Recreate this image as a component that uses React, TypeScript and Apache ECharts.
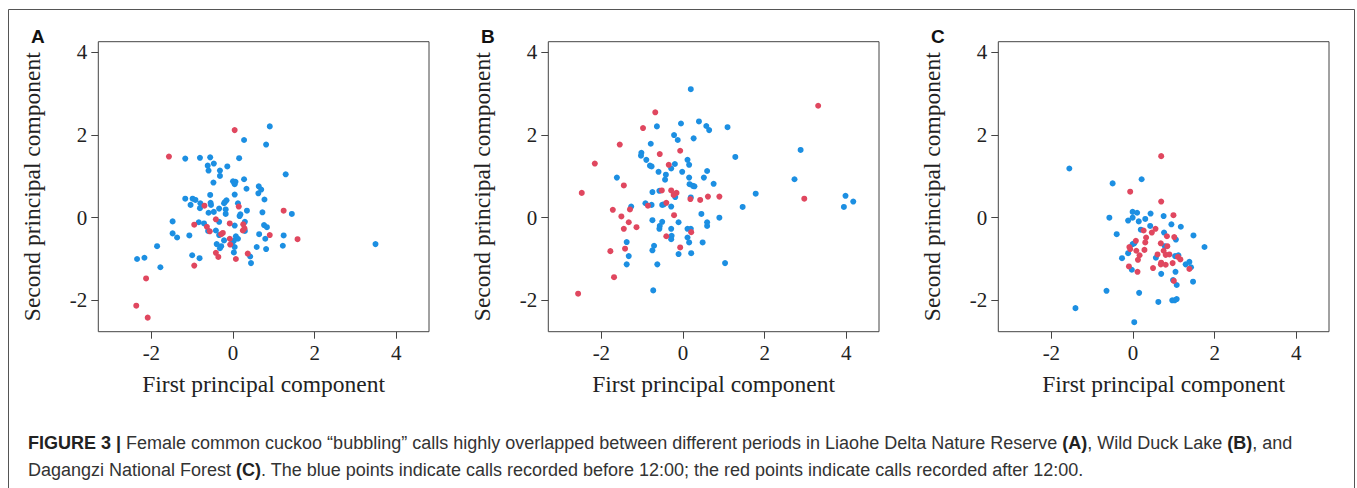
import React, { useEffect, useRef } from "react";
import * as echarts from "echarts";

// ---- Data ----
const panelLetters = ["A", "B", "C"];
const xTicks = [-2, 0, 2, 4];
const yTicks = [-2, 0, 2, 4];
const xTitle = "First principal component";
const yTitle = "Second principal component";

const aBefore: [number, number][] = [
  [0.90, 2.21], [0.27, 1.88], [0.81, 1.77], [-1.17, 1.43], [-0.81, 1.45], [-0.56, 1.46], [0.15, 1.44],
  [-0.62, 1.26], [-0.47, 1.31], [-0.14, 1.24], [-0.60, 1.14], [-0.32, 1.14], [-0.32, 1.01], [1.29, 1.05],
  [-0.48, 0.85], [0.00, 0.88], [0.06, 0.87], [0.04, 0.81], [0.27, 0.93], [0.33, 0.70], [0.63, 0.76],
  [0.69, 0.68], [0.62, 0.59], [0.77, 0.44], [0.04, 0.56], [-0.56, 0.55], [-1.17, 0.46], [-0.99, 0.46],
  [-0.92, 0.43], [-1.04, 0.31], [-0.80, 0.35], [-0.81, 0.23], [-0.55, 0.36], [-0.54, 0.31], [-0.20, 0.38],
  [-0.16, 0.42], [-0.22, 0.35], [0.12, 0.35], [-0.34, 0.22], [-0.18, 0.20], [-0.47, 0.14], [-0.60, 0.12],
  [-0.18, 0.09], [0.34, 0.17], [0.18, 0.08], [0.16, 0.04], [0.72, 0.13], [1.44, 0.09], [-1.48, -0.09],
  [-0.84, -0.11], [-0.71, -0.14], [-0.34, -0.10], [0.04, -0.19], [0.29, -0.10], [0.76, -0.18], [0.83, -0.23],
  [-0.61, -0.32], [-0.42, -0.31], [0.29, -0.32], [-1.48, -0.38], [-1.37, -0.48], [-1.07, -0.43], [-0.34, -0.42],
  [0.07, -0.45], [0.12, -0.51], [0.64, -0.40], [0.79, -0.51], [1.24, -0.43], [-0.22, -0.55], [0.02, -0.56],
  [-0.40, -0.64], [-0.29, -0.69], [-0.32, -0.74], [-0.03, -0.62], [0.04, -0.71], [-1.86, -0.69], [0.58, -0.71],
  [0.81, -0.76], [1.22, -0.68], [3.49, -0.64], [0.02, -0.84], [-1.00, -0.91], [-0.82, -0.98], [0.42, -0.94],
  [0.44, -1.10], [-2.35, -1.00], [-2.17, -0.97], [-1.78, -1.20],
];
const aAfter: [number, number][] = [
  [0.04, 2.12], [-1.57, 1.48], [-0.70, 0.29], [0.14, 0.27], [1.24, 0.17], [-0.42, -0.04], [-0.95, -0.17],
  [-0.64, -0.22], [-0.57, -0.33], [-0.08, -0.14], [0.25, -0.16], [0.28, -0.26], [0.24, -0.31], [-0.25, -0.37],
  [-0.29, -0.40], [0.90, -0.42], [-0.08, -0.51], [-0.07, -0.65], [1.58, -0.52], [-0.42, -0.85], [-0.36, -0.95],
  [0.36, -0.87], [0.07, -1.00], [-0.95, -1.16], [-2.13, -1.47], [-2.37, -2.13], [-2.09, -2.42],
];

const bBefore: [number, number][] = [
  [0.19, 3.11], [-0.64, 2.21], [-0.05, 2.28], [0.39, 2.33], [0.57, 2.22], [0.64, 2.12], [1.09, 2.19],
  [-0.22, 2.00], [0.26, 1.92], [-0.13, 1.88], [-0.79, 1.79], [-1.02, 1.57], [-1.03, 1.50], [-0.90, 1.40],
  [1.28, 1.47], [2.88, 1.64], [-0.81, 1.26], [-0.77, 1.24], [-0.20, 1.30], [-0.29, 1.19], [0.11, 1.40],
  [0.15, 1.28], [-0.60, 1.11], [-0.42, 1.04], [-0.44, 0.92], [-0.02, 1.11], [0.59, 1.13], [-1.62, 0.97],
  [0.15, 0.97], [0.51, 0.97], [0.75, 0.82], [0.16, 0.81], [0.24, 0.77], [0.28, 0.76], [2.73, 0.93],
  [-0.75, 0.62], [-0.58, 0.65], [1.78, 0.58], [0.19, 0.49], [-0.19, 0.50], [3.98, 0.53], [4.17, 0.39],
  [3.94, 0.26], [1.46, 0.26], [-0.92, 0.35], [-0.77, 0.31], [-0.51, 0.31], [-0.47, 0.32], [-0.29, 0.27],
  [-1.27, 0.27], [0.45, 0.09], [0.89, 0.00], [-0.75, -0.06], [-0.51, -0.10], [-0.11, -0.11], [0.59, -0.11],
  [0.59, -0.20], [-0.57, -0.20], [-0.58, -0.27], [-0.29, -0.27], [0.11, -0.27], [0.19, -0.27], [-0.28, -0.44],
  [-0.29, -0.52], [0.11, -0.48], [0.15, -0.60], [0.48, -0.60], [-1.38, -0.59], [-0.71, -0.68], [-0.75, -0.79],
  [-1.33, -0.93], [-0.11, -0.88], [0.20, -0.86], [-1.38, -1.13], [-0.63, -1.13], [1.03, -1.10], [-0.73, -1.76],
];
const bAfter: [number, number][] = [
  [-0.68, 2.55], [-0.98, 2.17], [-1.55, 1.77], [3.31, 2.71], [-0.07, 1.62], [-0.57, 1.54], [-2.16, 1.31],
  [-0.35, 1.28], [-1.45, 0.78], [-2.48, 0.60], [-0.52, 0.66], [-0.29, 0.66], [-0.16, 0.60], [-0.23, 0.55],
  [-0.41, 0.36], [-0.86, 0.29], [0.18, 0.45], [0.42, 0.43], [0.61, 0.51], [0.89, 0.51], [2.97, 0.46],
  [-1.72, 0.19], [-1.30, 0.20], [-1.51, 0.03], [-0.22, 0.06], [-1.33, -0.11], [-1.14, -0.23], [-1.45, -0.27],
  [0.20, -0.35], [-0.41, -0.45], [-1.42, -0.75], [-1.78, -0.81], [-0.07, -0.72], [-1.69, -1.44], [-2.57, -1.84],
];

const cBefore: [number, number][] = [
  [-1.56, 1.19], [-0.50, 0.83], [0.21, 0.93], [-0.01, 0.14], [0.10, 0.12], [0.43, 0.10], [0.75, 0.04],
  [-0.58, 0.00], [-0.01, 0.00], [-0.12, -0.07], [0.14, -0.09], [0.30, -0.03], [0.42, -0.20], [0.94, -0.16],
  [1.17, -0.22], [0.19, -0.29], [0.76, -0.36], [-0.40, -0.40], [1.05, -0.53], [1.48, -0.43], [-0.01, -0.64],
  [0.03, -0.62], [0.78, -0.69], [1.75, -0.71], [-0.12, -0.86], [1.11, -0.91], [-0.27, -0.98], [0.56, -0.97],
  [1.03, -0.93], [1.38, -1.07], [1.29, -1.13], [1.42, -1.20], [-0.03, -1.26], [0.69, -1.36], [1.04, -1.31],
  [0.98, -1.51], [1.07, -1.63], [1.47, -1.55], [-0.65, -1.77], [0.15, -1.82], [0.62, -2.04], [0.96, -2.00],
  [1.02, -2.00], [1.07, -1.97], [-1.41, -2.19], [0.03, -2.53],
];
const cAfter: [number, number][] = [
  [0.69, 1.49], [-0.07, 0.63], [0.69, 0.39], [0.99, 0.06], [0.26, -0.31], [0.55, -0.27], [0.46, -0.36],
  [0.32, -0.48], [0.83, -0.45], [1.01, -0.47], [0.07, -0.56], [0.30, -0.60], [0.68, -0.62], [0.84, -0.69],
  [-0.09, -0.71], [-0.07, -0.76], [0.08, -0.80], [0.28, -0.78], [0.75, -0.80], [0.16, -0.91], [0.80, -0.90],
  [0.89, -0.89], [0.60, -0.89], [0.12, -1.02], [1.10, -0.95], [1.16, -1.01], [0.69, -1.09], [0.68, -1.13],
  [0.80, -1.14], [0.97, -1.10], [-0.10, -1.18], [0.49, -1.22], [1.38, -1.24], [0.11, -1.31], [1.00, -1.53],
];

const captionLine1 =
  "{b|FIGURE 3 |} Female common cuckoo \u201cbubbling\u201d calls highly overlapped between different periods in Liaohe Delta Nature Reserve {b|(A)}, Wild Duck Lake {b|(B)}, and";
const captionLine2 =
  "Dagangzi National Forest {b|(C)}. The blue points indicate calls recorded before 12:00; the red points indicate calls recorded after 12:00.";

const BLUE = "#1c8fe2";
const RED = "#e0475f";

export default function App() {
  const ref = useRef<HTMLDivElement>(null);
  useEffect(() => {
    if (!ref.current) return;
    const chart = echarts.init(ref.current, undefined, { renderer: "svg" });
    const panels = [
      [aBefore, aAfter],
      [bBefore, bAfter],
      [cBefore, cAfter],
    ];
    const lefts = [98.3, 548.3, 998.3];
    const serif = "'Liberation Serif', 'Times New Roman', serif";
    const sans = "'Liberation Sans', Arial, sans-serif";
    const axisColor = "#444";
    const textColor = "#222";
    const capSize = 18;
    const titleSize = 23.5;
    const tickSize = 21;

    const grid = lefts.map((l) => ({
      left: l,
      top: 41.7,
      width: 330.7,
      height: 290,
      show: true,
      borderColor: axisColor,
      borderWidth: 1,
      backgroundColor: "transparent",
    }));
    const xAxis = lefts.map((_, i) => ({
      type: "value",
      gridIndex: i,
      min: -3.3,
      max: 4.8,
      name: xTitle,
      nameLocation: "middle",
      nameGap: 40,
      nameTextStyle: { fontFamily: serif, fontSize: titleSize, color: textColor },
      axisLine: { show: false, onZero: false },
      axisTick: { show: true, length: 7, inside: false, customValues: xTicks, lineStyle: { color: axisColor } },
      axisLabel: { customValues: xTicks, fontFamily: serif, fontSize: tickSize, color: textColor, margin: 11 },
      splitLine: { show: false },
    }));
    const yAxis = lefts.map((_, i) => ({
      type: "value",
      gridIndex: i,
      min: -2.76,
      max: 4.26,
      name: yTitle,
      nameLocation: "middle",
      nameGap: 54,
      nameRotate: 90,
      nameTextStyle: { fontFamily: serif, fontSize: titleSize, color: textColor },
      axisLine: { show: false, onZero: false },
      axisTick: { show: true, length: 7, inside: false, customValues: yTicks, lineStyle: { color: axisColor } },
      axisLabel: { customValues: yTicks, fontFamily: serif, fontSize: tickSize, color: textColor, margin: 11 },
      splitLine: { show: false },
    }));
    const series: any[] = [];
    panels.forEach((p, i) => {
      series.push({
        type: "scatter",
        xAxisIndex: i,
        yAxisIndex: i,
        data: p[0],
        symbolSize: 6,
        itemStyle: { color: BLUE, opacity: 1 },
      });
      series.push({
        type: "scatter",
        xAxisIndex: i,
        yAxisIndex: i,
        data: p[1],
        symbolSize: 6,
        itemStyle: { color: RED, opacity: 1 },
      });
    });

    const graphic: any[] = [
      {
        type: "rect",
        shape: { x: 8.5, y: 9.5, width: 1346, height: 490 },
        style: { fill: "none", stroke: "#555", lineWidth: 1 },
        silent: true,
      },
      ...panelLetters.map((t, i) => ({
        type: "text",
        x: 31 + i * 450,
        y: 36,
        style: {
          text: t,
          font: `bold 19px ${sans}`,
          fill: "#111",
          verticalAlign: "middle",
        },
      })),
      {
        type: "text",
        x: 28,
        y: 443,
        style: {
          text: captionLine1,
          fontFamily: sans,
          fontSize: capSize,
          fill: "#333",
          verticalAlign: "middle",
          rich: { b: { fontFamily: sans, fontSize: capSize, fontWeight: "bold", fill: "#222" } },
        },
      },
      {
        type: "text",
        x: 28,
        y: 470,
        style: {
          text: captionLine2,
          fontFamily: sans,
          fontSize: capSize,
          fill: "#333",
          verticalAlign: "middle",
          rich: { b: { fontFamily: sans, fontSize: capSize, fontWeight: "bold", fill: "#222" } },
        },
      },
    ];

    chart.setOption({
      animation: false,
      backgroundColor: "#fff",
      grid,
      xAxis,
      yAxis,
      series,
      graphic,
    } as any);
    return () => chart.dispose();
  }, []);
  return (
    <div
      ref={ref}
      style={{ position: "absolute", left: 0, top: 0, width: 1357, height: 488 }}
    />
  );
}
